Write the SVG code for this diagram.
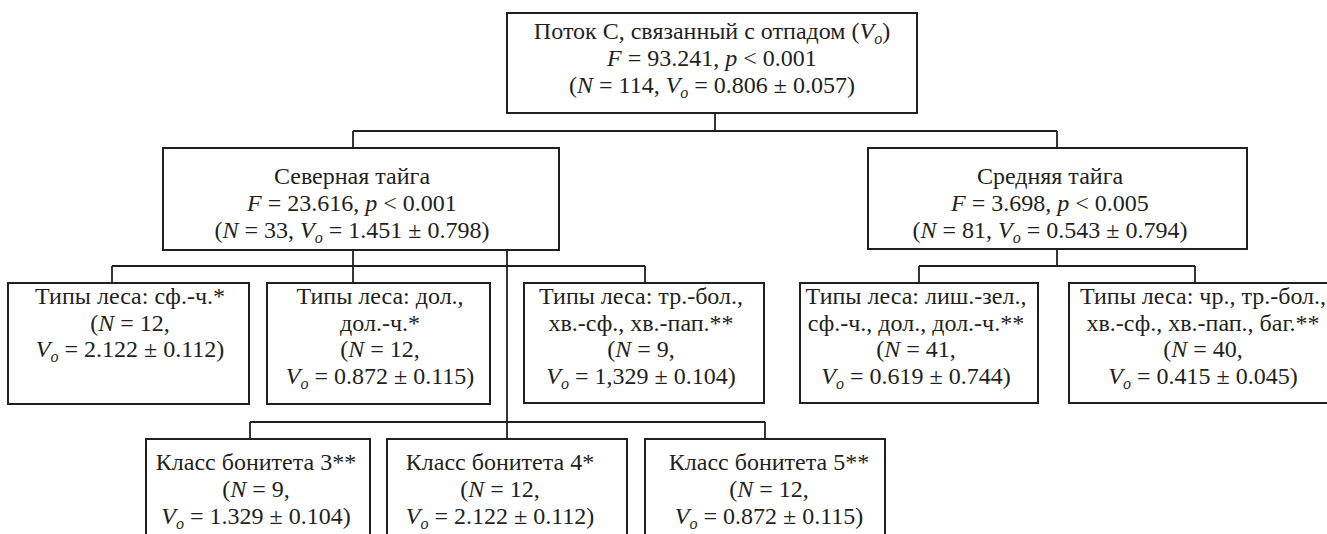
<svg xmlns="http://www.w3.org/2000/svg" width="1327" height="534" viewBox="0 0 1327 534">
<style>
.box{fill:#fff;stroke:#231f20;stroke-width:2}
.con{fill:none;stroke:#231f20;stroke-width:1.8}
text{font-family:"Liberation Serif","Times New Roman",serif;font-size:24px;fill:#231f20;text-anchor:middle}
.i{font-style:italic}
.s{font-style:italic;font-size:16px}
</style>
<rect width="1327" height="534" fill="#fff"/>
<g id="connectors">
<path class="con" d="M715,113V131M353,131H1057M353,131V148M1057,131V148"/>
<path class="con" d="M353,250V283M112,266H645M112,266V283M645,266V283M507,250V439"/>
<path class="con" d="M1057,249V266M919,266H1195M919,266V283M1195,266V283"/>
<path class="con" d="M250,422H765M250,422V439M765,422V439"/>
</g>
<g id="root">
<rect class="box" x="507" y="13" width="410" height="100"/>
<text x="712" y="39">Поток С, связанный с отпадом (<tspan class="i">V</tspan><tspan class="s" dy="5">o</tspan><tspan dy="-5">)</tspan></text>
<text x="712" y="66"><tspan class="i">F</tspan> = 93.241, <tspan class="i">p</tspan> &lt; 0.001</text>
<text x="712" y="93">(<tspan class="i">N</tspan> = 114, <tspan class="i">V</tspan><tspan class="s" dy="5">o</tspan><tspan dy="-5"> = 0.806 ± 0.057)</tspan></text>
</g>
<g id="north">
<rect class="box" x="163" y="148" width="396" height="102"/>
<text x="352" y="184">Северная тайга</text>
<text x="352" y="211"><tspan class="i">F</tspan> = 23.616, <tspan class="i">p</tspan> &lt; 0.001</text>
<text x="352" y="238">(<tspan class="i">N</tspan> = 33, <tspan class="i">V</tspan><tspan class="s" dy="5">o</tspan><tspan dy="-5"> = 1.451 ± 0.798)</tspan></text>
</g>
<g id="middle">
<rect class="box" x="868" y="148" width="379" height="101"/>
<text x="1050" y="184">Средняя тайга</text>
<text x="1050" y="211"><tspan class="i">F</tspan> = 3.698, <tspan class="i">p</tspan> &lt; 0.005</text>
<text x="1050" y="238">(<tspan class="i">N</tspan> = 81, <tspan class="i">V</tspan><tspan class="s" dy="5">o</tspan><tspan dy="-5"> = 0.543 ± 0.794)</tspan></text>
</g>
<g id="n1">
<rect class="box" x="8" y="283" width="241" height="121"/>
<text x="130" y="304">Типы леса: сф.-ч.*</text>
<text x="130" y="331">(<tspan class="i">N</tspan> = 12,</text>
<text x="130" y="357"><tspan class="i">V</tspan><tspan class="s" dy="5">o</tspan><tspan dy="-5"> = 2.122 ± 0.112)</tspan></text>
</g>
<g id="n2">
<rect class="box" x="267" y="283" width="223" height="121"/>
<text x="380" y="304">Типы леса: дол.,</text>
<text x="380" y="331">дол.-ч.*</text>
<text x="380" y="357">(<tspan class="i">N</tspan> = 12,</text>
<text x="380" y="384"><tspan class="i">V</tspan><tspan class="s" dy="5">o</tspan><tspan dy="-5"> = 0.872 ± 0.115)</tspan></text>
</g>
<g id="n3">
<rect class="box" x="524" y="283" width="240" height="120"/>
<text x="641" y="304">Типы леса: тр.-бол.,</text>
<text x="641" y="331">хв.-сф., хв.-пап.**</text>
<text x="641" y="357">(<tspan class="i">N</tspan> = 9,</text>
<text x="641" y="384"><tspan class="i">V</tspan><tspan class="s" dy="5">o</tspan><tspan dy="-5"> = 1,329 ± 0.104)</tspan></text>
</g>
<g id="m1">
<rect class="box" x="800" y="283" width="238" height="120"/>
<text x="916" y="304">Типы леса: лиш.-зел.,</text>
<text x="916" y="331">сф.-ч., дол., дол.-ч.**</text>
<text x="916" y="357">(<tspan class="i">N</tspan> = 41,</text>
<text x="916" y="384"><tspan class="i">V</tspan><tspan class="s" dy="5">o</tspan><tspan dy="-5"> = 0.619 ± 0.744)</tspan></text>
</g>
<g id="m2">
<rect class="box" x="1069" y="283" width="280" height="120"/>
<text x="1203" y="304">Типы леса: чр., тр.-бол.,</text>
<text x="1203" y="331">хв.-сф., хв.-пап., баг.**</text>
<text x="1203" y="357">(<tspan class="i">N</tspan> = 40,</text>
<text x="1203" y="384"><tspan class="i">V</tspan><tspan class="s" dy="5">o</tspan><tspan dy="-5"> = 0.415 ± 0.045)</tspan></text>
</g>
<g id="b3">
<rect class="box" x="146" y="439" width="224" height="110"/>
<text x="256" y="470">Класс бонитета 3**</text>
<text x="256" y="497">(<tspan class="i">N</tspan> = 9,</text>
<text x="256" y="524"><tspan class="i">V</tspan><tspan class="s" dy="5">o</tspan><tspan dy="-5"> = 1.329 ± 0.104)</tspan></text>
</g>
<g id="b4">
<rect class="box" x="387" y="439" width="240" height="110"/>
<text x="500" y="470">Класс бонитета 4*</text>
<text x="500" y="497">(<tspan class="i">N</tspan> = 12,</text>
<text x="500" y="524"><tspan class="i">V</tspan><tspan class="s" dy="5">o</tspan><tspan dy="-5"> = 2.122 ± 0.112)</tspan></text>
</g>
<g id="b5">
<rect class="box" x="645" y="439" width="240" height="110"/>
<text x="769" y="470">Класс бонитета 5**</text>
<text x="769" y="497">(<tspan class="i">N</tspan> = 12,</text>
<text x="769" y="524"><tspan class="i">V</tspan><tspan class="s" dy="5">o</tspan><tspan dy="-5"> = 0.872 ± 0.115)</tspan></text>
</g>
</svg>
